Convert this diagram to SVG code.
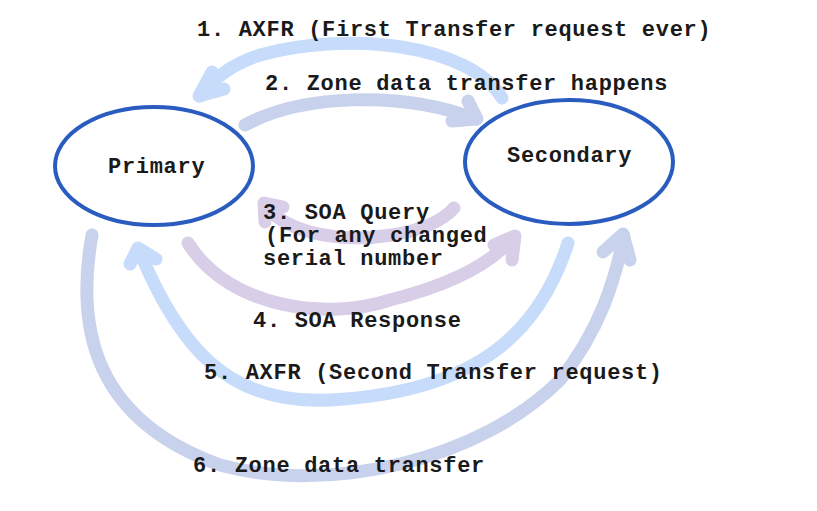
<svg xmlns="http://www.w3.org/2000/svg" width="817" height="511" viewBox="0 0 817 511">
<style>
.node{fill:#ffffff;stroke:#2a5cc0;stroke-width:4}
.lbl{font-family:"Liberation Mono","Courier New",monospace;font-weight:bold;font-size:22px;letter-spacing:0.7px;fill:#1a1a1a}
.c{fill:none;stroke-width:13;stroke-linecap:round;stroke-linejoin:round}
.blue{stroke:#c6dcfa}
.gray{stroke:#c9d2ec}
.lav{stroke:#d9cee7}
</style>
<rect width="817" height="511" fill="#ffffff"/>
<g id="connectors">
  <g id="c1">
    <path class="c blue" d="M502,98 C470,45 350,30 260,55 C232,64 212,80 200,96"/>
    <polyline class="c blue" points="212,72 199,96 224,89"/>
  </g>
  <g id="c2">
    <path class="c gray" d="M245,125 C300,95 400,90 476,119"/>
    <polyline class="c gray" points="468,101 477,119 452,121"/>
  </g>
  <g id="c3">
    <path class="c lav" d="M454,208 C430,235 360,245 310,232 C285,225 272,215 265,204"/>
    <polyline class="c lav" points="265,222 264,203 283,207"/>
  </g>
  <g id="c4">
    <path class="c lav" d="M188,243 C230,310 330,320 390,300 C450,285 490,265 514,237"/>
    <polyline class="c lav" points="494,245 515,236 512,260"/>
  </g>
  <g id="c5">
    <path class="c blue" d="M568,243 C540,330 480,392 330,400 C230,405 180,350 139,250"/>
    <polyline class="c blue" points="130,264 138,248 156,259"/>
  </g>
  <g id="c6">
    <path class="c gray" d="M92,235 C75,330 95,420 220,465 C330,495 480,460 560,380 C600,330 615,280 624,236"/>
    <polyline class="c gray" points="603,252 623,234 630,260"/>
  </g>
</g>
<g id="primary">
  <ellipse class="node" cx="154" cy="166" rx="99" ry="59"/>
  <text class="lbl" x="108" y="173">Primary</text>
</g>
<g id="secondary">
  <ellipse class="node" cx="569" cy="162" rx="104" ry="62"/>
  <text class="lbl" x="507" y="162">Secondary</text>
</g>
<g id="labels">
  <text class="lbl" x="197" y="36">1. AXFR (First Transfer request ever)</text>
  <text class="lbl" x="265" y="90">2. Zone data transfer happens</text>
  <text class="lbl" x="263" y="219">3. SOA Query</text>
  <text class="lbl" x="265" y="242">(For any changed</text>
  <text class="lbl" x="263" y="265">serial number</text>
  <text class="lbl" x="253" y="327">4. SOA Response</text>
  <text class="lbl" x="204" y="379">5. AXFR (Second Transfer request)</text>
  <text class="lbl" x="193" y="472">6. Zone data transfer</text>
</g>
</svg>
